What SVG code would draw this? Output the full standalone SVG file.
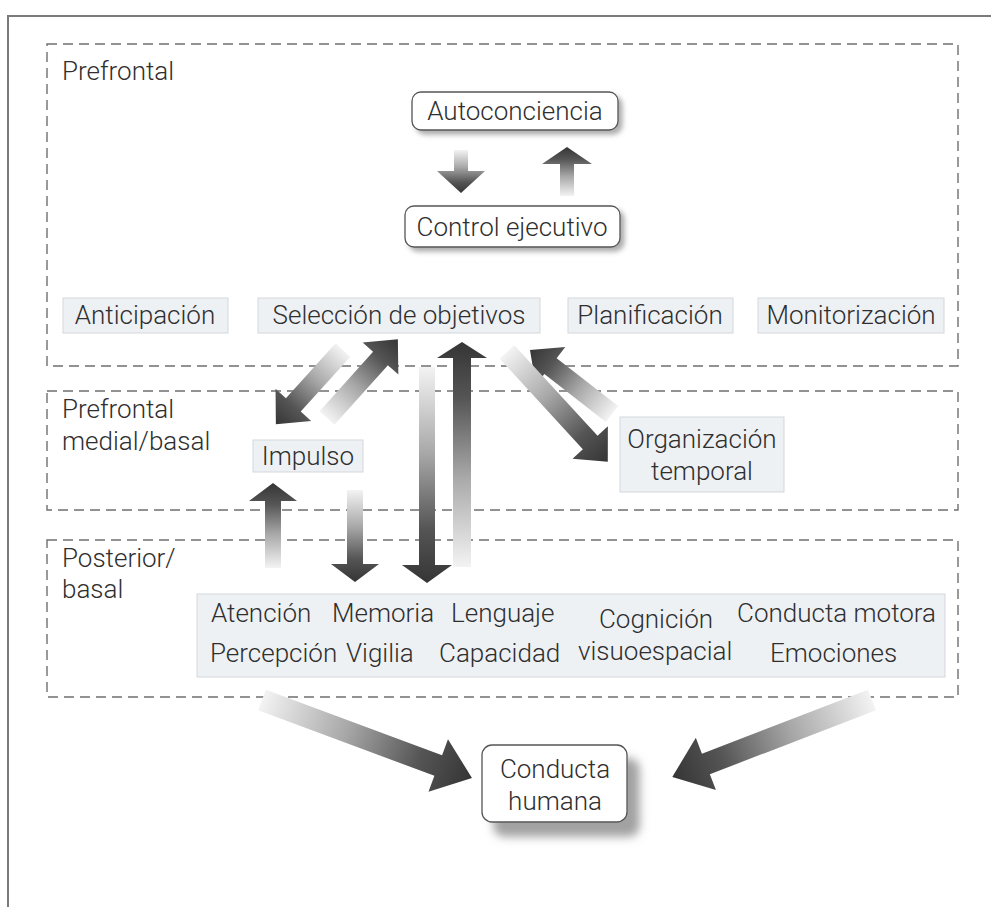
<svg xmlns="http://www.w3.org/2000/svg" width="991" height="907" viewBox="0 0 991 907">
  <defs>
    <style>
      .t { font-family: Roboto, "Liberation Sans", Arial, sans-serif; font-weight: 300; font-size: 26px; fill: #2f2f2f; }
      .mid { text-anchor: middle; }
      .zone { fill: none; stroke: #6f6f6f; stroke-width: 1.4; stroke-dasharray: 10 6; }
      .frame { fill: none; stroke: #7a7a7a; stroke-width: 2; }
      .card { fill: #fff; stroke: #555; stroke-width: 1.3; }
      .tag { fill: #eef1f4; stroke: #d3d7dc; stroke-width: 1; }
      .arrow { fill: url(#fade); }
    </style>
    <linearGradient id="fade" x1="0" y1="0" x2="1" y2="0">
      <stop offset="0" stop-color="#f3f3f3"/>
      <stop offset="0.4" stop-color="#a8a8a8"/>
      <stop offset="0.75" stop-color="#555"/>
      <stop offset="1" stop-color="#353535"/>
    </linearGradient>
    <filter id="shadow" x="-20%" y="-30%" width="150%" height="180%">
      <feDropShadow dx="4" dy="4" stdDeviation="2.5" flood-color="#8a8a8a" flood-opacity="0.7"/>
    </filter>
    <filter id="shadowBig" x="-30%" y="-30%" width="170%" height="180%">
      <feDropShadow dx="12" dy="14" stdDeviation="5" flood-color="#8a8a8a" flood-opacity="0.8"/>
    </filter>
  </defs>

  <rect width="991" height="907" fill="#fff"/>

  <!-- page frame -->
  <path class="frame" d="M8,907 V16 H991"/>

  <!-- dashed regions -->
  <g id="regions">
    <rect class="zone" x="47" y="44" width="911" height="322"/>
    <rect class="zone" x="47" y="391" width="911" height="119"/>
    <rect class="zone" x="47" y="540" width="911" height="157"/>
    <text class="t" x="62" y="80">Prefrontal</text>
    <text class="t" x="62" y="418">Prefrontal</text>
    <text class="t" x="62" y="450">medial/basal</text>
    <text class="t" x="62" y="567">Posterior/</text>
    <text class="t" x="62" y="598">basal</text>
  </g>

  <!-- connectors -->
  <g id="connectors">
    <path class="arrow" d="M0,-7 L21,-7 L21,-24 L43,0 L21,24 L21,7 L0,7Z" transform="translate(461,150) rotate(90)"/>
    <path class="arrow" d="M0,-7 L32,-7 L32,-25 L49,0 L32,25 L32,7 L0,7Z" transform="translate(567,196) rotate(-90)"/>
    <path class="arrow" d="M0,-10 L80,-10 L80,-24 L106,0 L80,24 L80,10 L0,10Z" transform="translate(327,418) rotate(-48.05)"/>
    <path class="arrow" d="M0,-10 L74,-10 L74,-24 L100,0 L74,24 L74,10 L0,10Z" transform="translate(343,350) rotate(132.16)"/>
    <path class="arrow" d="M0,-10 L78,-10 L78,-24 L104,0 L78,24 L78,10 L0,10Z" transform="translate(612,414) rotate(-142.03)"/>
    <path class="arrow" d="M0,-10 L123,-10 L123,-24 L149,0 L123,24 L123,10 L0,10Z" transform="translate(507,352) rotate(47.44)"/>
    <path class="arrow" d="M0,-8 L198,-8 L198,-25 L216,0 L198,25 L198,8 L0,8Z" transform="translate(427,367) rotate(90)"/>
    <path class="arrow" d="M0,-9 L209,-9 L209,-25 L225,0 L209,25 L209,9 L0,9Z" transform="translate(462,567) rotate(-90)"/>
    <path class="arrow" d="M0,-8 L67,-8 L67,-24 L85,0 L67,24 L67,8 L0,8Z" transform="translate(273,568) rotate(-90)"/>
    <path class="arrow" d="M0,-8 L74,-8 L74,-24 L92,0 L74,24 L74,8 L0,8Z" transform="translate(355,490) rotate(90)"/>
    <path class="arrow" d="M0,-11 L188,-11 L188,-28 L224,0 L188,28 L188,11 L0,11Z" transform="translate(262,700) rotate(20.38)"/>
    <path class="arrow" d="M0,-11 L178,-11 L178,-28 L214,0 L178,28 L178,11 L0,11Z" transform="translate(872,700) rotate(158.94)"/>
  </g>

  <!-- nodes -->
  <g id="autoconciencia">
    <rect class="card" x="412" y="92" width="206" height="38" rx="9" filter="url(#shadow)"/>
    <text class="t mid" x="515" y="120">Autoconciencia</text>
  </g>
  <g id="control-ejecutivo">
    <rect class="card" x="405" y="206" width="215" height="41" rx="9" filter="url(#shadow)"/>
    <text class="t mid" x="512" y="236">Control ejecutivo</text>
  </g>
  <g id="anticipacion">
    <rect class="tag" x="63" y="298" width="165" height="35"/>
    <text class="t mid" x="145" y="324">Anticipación</text>
  </g>
  <g id="seleccion">
    <rect class="tag" x="258" y="298" width="282" height="35"/>
    <text class="t mid" x="399" y="324">Selección de objetivos</text>
  </g>
  <g id="planificacion">
    <rect class="tag" x="568" y="298" width="165" height="35"/>
    <text class="t mid" x="650" y="324">Planificación</text>
  </g>
  <g id="monitorizacion">
    <rect class="tag" x="758" y="298" width="186" height="35"/>
    <text class="t mid" x="851" y="324">Monitorización</text>
  </g>
  <g id="impulso">
    <rect class="tag" x="253" y="440" width="110" height="32"/>
    <text class="t mid" x="308" y="465">Impulso</text>
  </g>
  <g id="organizacion-temporal">
    <rect class="tag" x="620" y="417" width="164" height="75"/>
    <text class="t mid" x="702" y="448">Organización</text>
    <text class="t mid" x="702" y="480">temporal</text>
  </g>
  <g id="funciones-posteriores">
    <rect class="tag" x="197" y="594" width="748" height="83"/>
    <text class="t" x="211" y="622">Atención</text>
    <text class="t" x="332" y="622">Memoria</text>
    <text class="t" x="451" y="622">Lenguaje</text>
    <text class="t mid" x="656" y="628">Cognición</text>
    <text class="t" x="737" y="622">Conducta motora</text>
    <text class="t" x="210" y="662">Percepción</text>
    <text class="t" x="346" y="662">Vigilia</text>
    <text class="t" x="439" y="662">Capacidad</text>
    <text class="t" x="578" y="660">visuoespacial</text>
    <text class="t" x="770" y="662">Emociones</text>
  </g>
  <g id="conducta-humana">
    <rect class="card" x="482" y="745" width="145" height="77" rx="10" filter="url(#shadowBig)"/>
    <text class="t mid" x="555" y="778">Conducta</text>
    <text class="t mid" x="555" y="810">humana</text>
  </g>
</svg>
